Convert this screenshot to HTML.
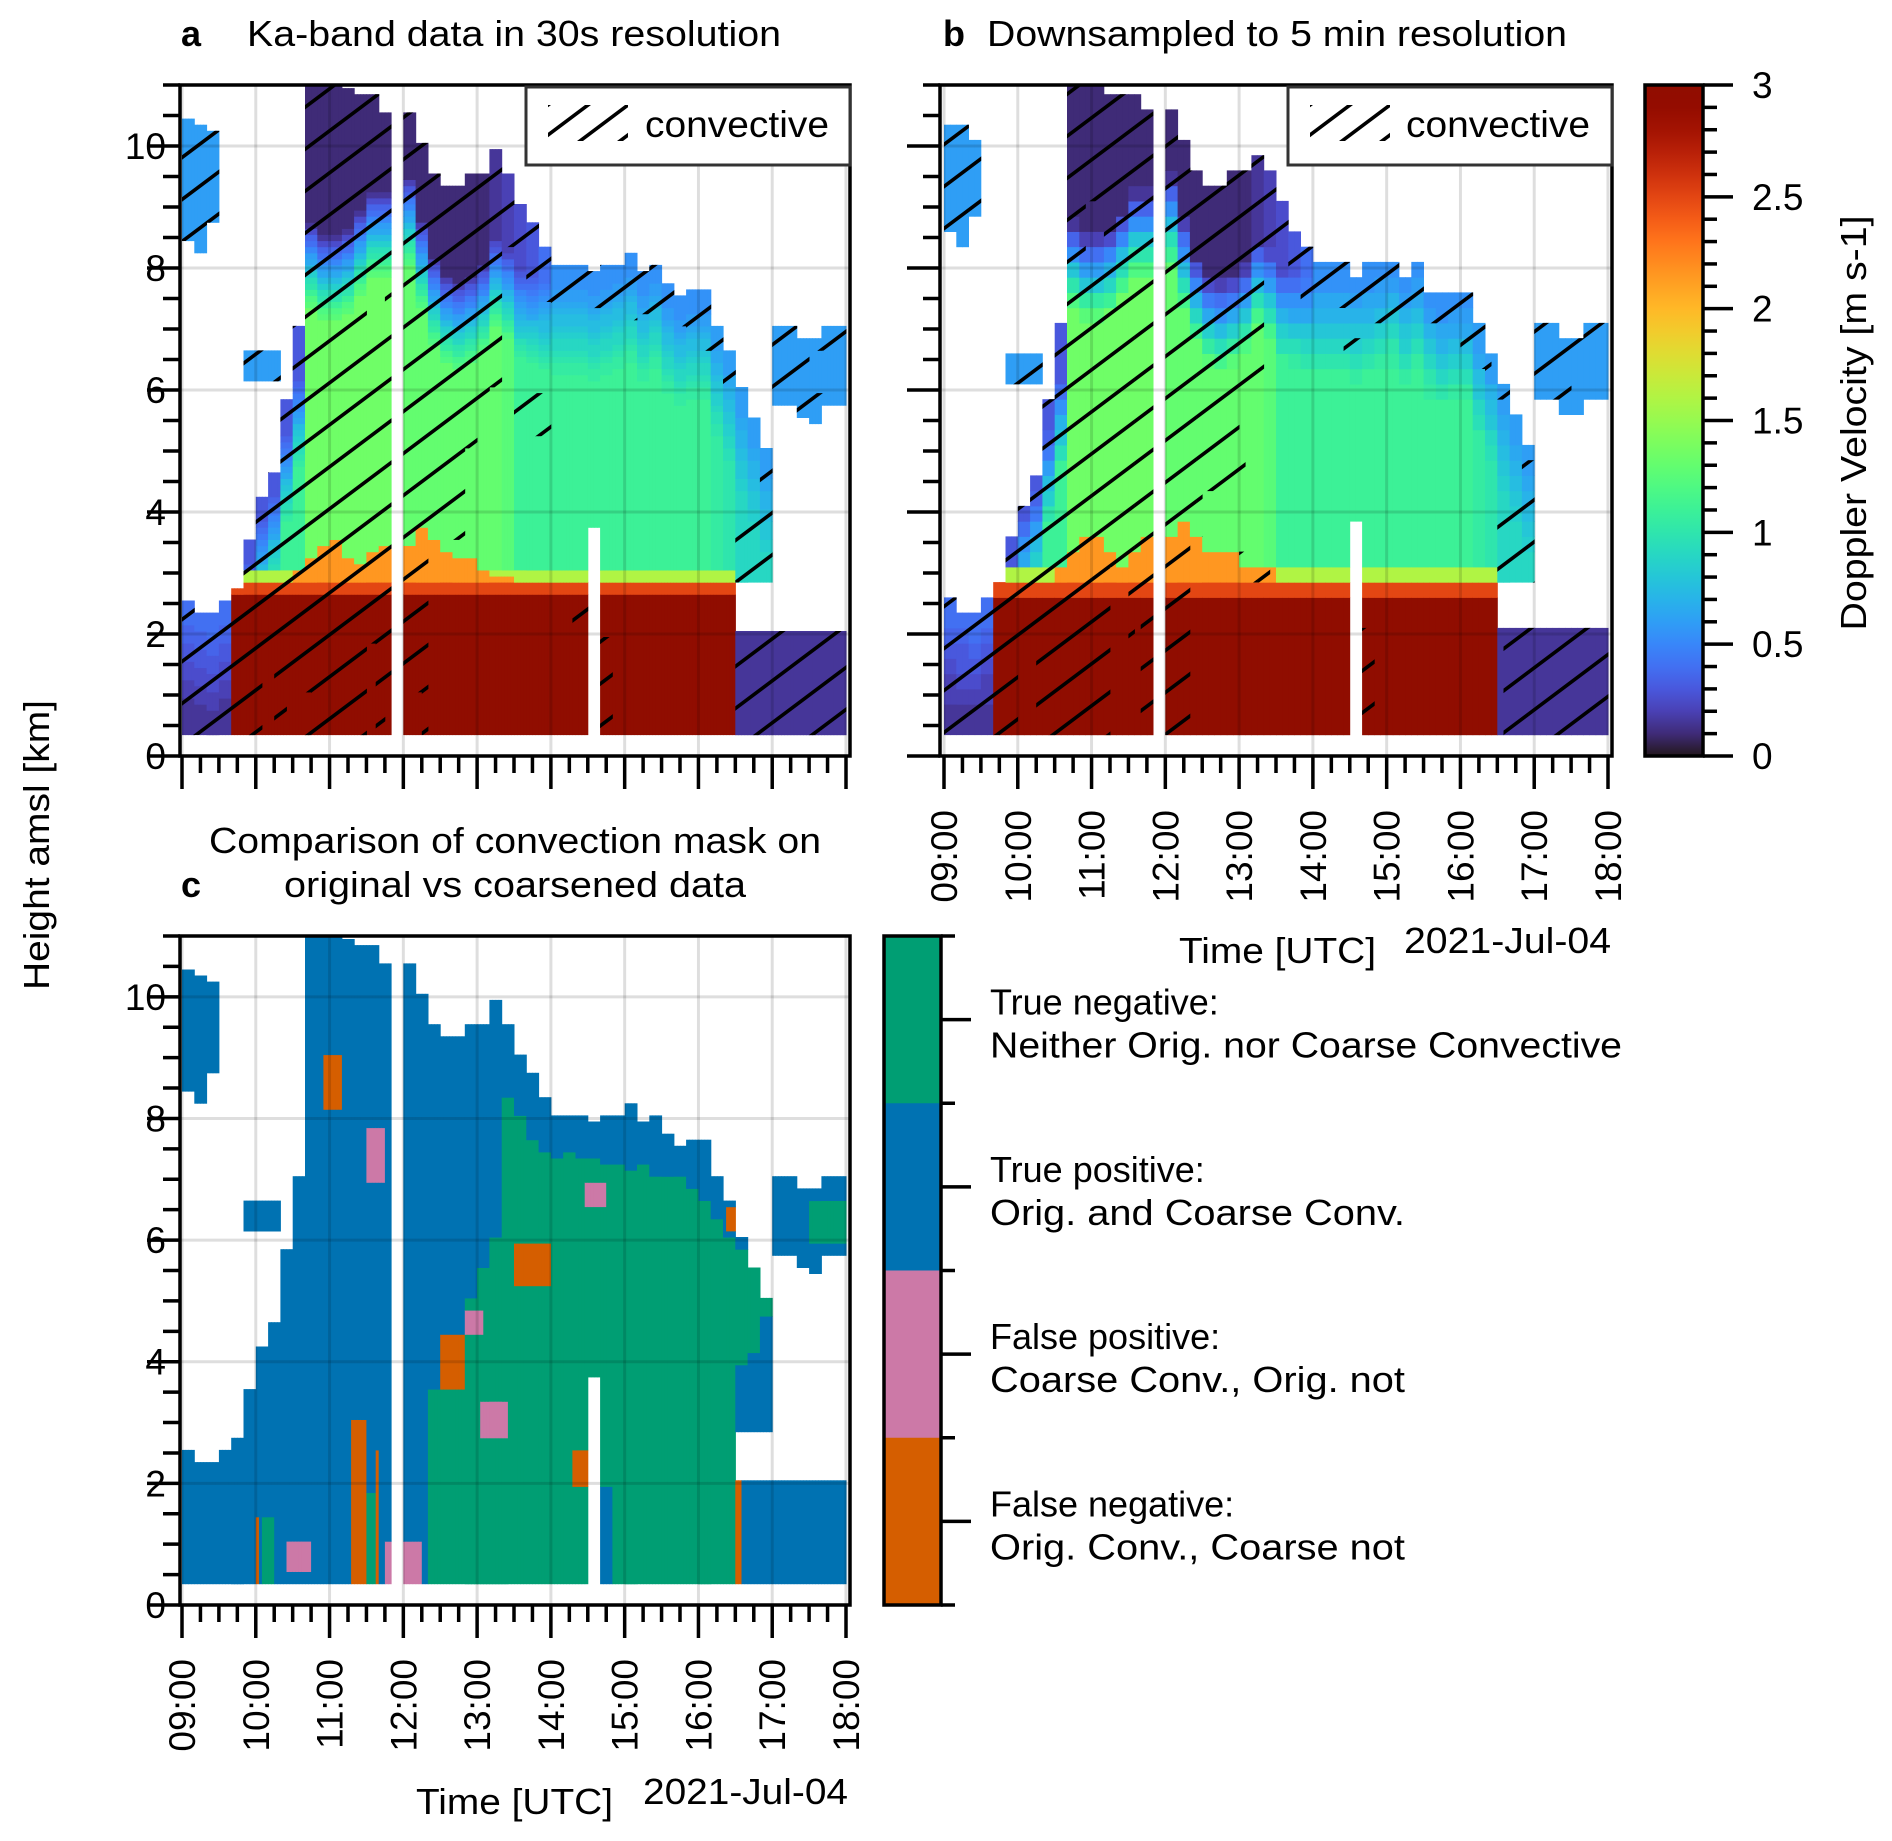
<!DOCTYPE html>
<html><head><meta charset="utf-8">
<style>
html,body{margin:0;padding:0;background:#fff;}
svg{display:block;font-family:"Liberation Sans",Arial,sans-serif;}
</style></head>
<body>
<svg id="fig" width="1892" height="1841" viewBox="0 0 1892 1841" xmlns="http://www.w3.org/2000/svg">
<defs>
<pattern id="hatchA" patternUnits="userSpaceOnUse" width="56" height="42"><path d="M-14,52.5 L70,-10.5 M-70,52.5 L14,-10.5 M42,52.5 L126,-10.5" stroke="#000" stroke-width="3.6" fill="none"/></pattern>
<pattern id="hatchB" patternUnits="userSpaceOnUse" width="56" height="42" x="10" y="5"><path d="M-14,52.5 L70,-10.5 M-70,52.5 L14,-10.5 M42,52.5 L126,-10.5" stroke="#000" stroke-width="3.6" fill="none"/></pattern>
<pattern id="hatchL" patternUnits="userSpaceOnUse" width="40" height="30" x="548" y="105"><path d="M-10,37.5 L50,-7.5 M-50,37.5 L10,-7.5 M30,37.5 L90,-7.5" stroke="#000" stroke-width="3.6" fill="none"/></pattern>
<pattern id="hatchL2" patternUnits="userSpaceOnUse" width="40" height="30" x="1310" y="105"><path d="M-10,37.5 L50,-7.5 M-50,37.5 L10,-7.5 M30,37.5 L90,-7.5" stroke="#000" stroke-width="3.6" fill="none"/></pattern>
<linearGradient id="turboGrad" x1="0" y1="1" x2="0" y2="0"></linearGradient>
<clipPath id="convA"></clipPath>
<clipPath id="convB"></clipPath>
</defs>
<g id="layer"></g>
</svg>
<script>
// ---------- data (10-minute bins from 09:00 to 18:00, 54 bins) ----------
const hourLabels = ['09:00','10:00','11:00','12:00','13:00','14:00','15:00','16:00','17:00','18:00'];
const heightTicks = [0,2,4,6,8,10];
const velocityTicks = [0,0.5,1,1.5,2,2.5,3];
const velocityTickLabels = ['0','0.5','1','1.5','2','2.5','3'];
const cloudTop = [2.5,2.4,2.3,2.5,2.8,3.5,4.2,4.6,5.8,7.0,
  11,11,11,10.9,10.8,10.8,10.5,0,10.5,10.0,
  9.6,9.3,9.3,9.5,9.6,9.9,9.5,9.0,8.7,8.3,
  8.0,8.0,8.0,7.9,8.0,8.1,8.2,7.9,8.1,7.7,
  7.5,7.6,7.6,7.0,6.6,6.0,5.5,5.0,0,0,
  0,0,0,0];
const cloudBase = [0.35,0.35,0.35,0.35,0.35,0.35,0.35,0.35,0.35,0.35,
  0.35,0.35,0.35,0.35,0.35,0.35,0.35,0.35,0.35,0.35,
  0.35,0.35,0.35,0.35,0.35,0.35,0.35,0.35,0.35,0.35,
  0.35,0.35,0.35,3.8,0.35,0.35,0.35,0.35,0.35,0.35,
  0.35,0.35,0.35,0.35,0.35,2.9,2.9,2.9,0.35,0.35,
  0.35,0.35,0.35,0.35];
const rainTop = [0,0,0,0,2.7,2.7,2.7,2.7,2.7,2.7,
  2.7,2.7,2.7,2.7,2.7,2.7,2.7,0,2.7,2.7,
  2.7,2.7,2.7,2.7,2.7,2.7,2.7,2.7,2.7,2.7,
  2.7,2.7,2.7,2.7,2.7,2.7,2.7,2.7,2.7,2.7,
  2.7,2.7,2.7,2.7,2.7,0,0,0,0,0,
  0,0,0,0];
const streakTop = [0,0,0,0,0,0,0,0,0,3.1,
  3.3,3.5,3.6,3.3,3.2,3.4,3.5,0,3.5,3.8,
  3.6,3.4,3.3,3.3,3.1,3.0,3.0,0,0,0,
  0,0,0,0,0,0,0,0,0,0,
  0,0,0,0,0,0,0,0,0,0,
  0,0,0,0];
const velMid = [0.15,0.15,0.15,0.15,0.5,1.1,1.1,1.1,1.1,1.1,
  1.35,1.35,1.35,1.35,1.35,1.35,1.35,0,1.3,1.3,
  1.3,1.3,1.3,1.3,1.3,1.3,1.25,1.1,1.1,1.1,
  1.1,1.1,1.1,1.1,1.1,1.1,1.1,1.1,1.1,1.1,
  1.1,1.1,1.1,1.05,1.0,0.9,0.9,0.9,0,0,
  0,0,0,0];
const velTop = [0.4,0.4,0.4,0.4,0.3,0.3,0.3,0.3,0.3,0.3,
  0.08,0.08,0.08,0.08,0.08,0.08,0.08,0,0.12,0.12,
  0.12,0.12,0.12,0.12,0.12,0.15,0.2,0.25,0.3,0.4,
  0.55,0.55,0.55,0.55,0.55,0.55,0.55,0.55,0.55,0.55,
  0.55,0.55,0.55,0.6,0.6,0.6,0.6,0.6,0,0,
  0,0,0,0];
const darkDepth = [0.2,0.2,0.2,0.2,0.3,0.3,0.3,0.3,0.5,0.8,
  2.2,2.4,2.4,2.2,1.8,1.5,1.2,0,1.0,1.2,
  1.4,1.4,1.5,1.6,1.5,1.4,1.2,1.0,0.8,0.5,
  0.3,0.3,0.3,0.3,0.3,0.3,0.3,0.3,0.3,0.3,
  0.3,0.3,0.3,0.3,0.3,0.3,0.3,0.3,0,0,
  0,0,0,0];
const clutterTop = [0,0,0,0,0,0,0,0,0,0,
  0,0,0,0,0,0,0,0,0,0,
  0,0,0,0,0,0,0,0,0,0,
  0,0,0,0,0,0,0,0,0,0,
  0,0,0,0,0,2.0,2.0,2.0,2.0,2.0,
  2.0,2.0,2.0,2.0];
const upperBase = [8.5,8.3,8.8,0,0,6.2,6.2,6.2,0,0,
  0,0,0,0,0,0,0,0,0,0,
  0,0,0,0,0,0,0,0,0,0,
  0,0,0,0,0,0,0,0,0,0,
  0,0,0,0,0,0,0,0,5.8,5.8,
  5.6,5.5,5.8,5.8];
const upperTop = [10.4,10.3,10.2,0,0,6.6,6.6,6.6,0,0,
  0,0,0,0,0,0,0,0,0,0,
  0,0,0,0,0,0,0,0,0,0,
  0,0,0,0,0,0,0,0,0,0,
  0,0,0,0,0,0,0,0,7.0,7.0,
  6.8,6.8,7.0,7.0];
// panel c: non-convective (true negative) range per bin
const tnBottom = [0,0,0,0,0,0,0,0,0,0,
  0,0,0,0,0,0,0,0,0,0,
  0.35,0.35,0.35,0.35,0.35,0.35,0.35,0.35,0.35,0.35,
  0.35,0.35,0.35,3.8,2.0,0.35,0.35,0.35,0.35,0.35,
  0.35,0.35,0.35,0.35,0.35,4.0,4.2,4.8,0,0,
  0,5.9,5.9,5.9];
const tnTop = [0,0,0,0,0,0,0,0,0,0,
  0,0,0,0,0,0,0,0,0,0,
  3.5,3.6,3.8,5.0,5.5,6.0,8.3,8.0,7.6,7.4,
  7.3,7.4,7.3,7.3,7.2,7.2,7.1,7.2,7.0,7.0,
  7.0,6.8,6.6,6.3,6.0,5.8,5.5,5.0,0,0,
  0,6.6,6.6,6.6];
// panel c: misclassified patches (start hour, end hour, low km, high km, class)
const patchStart = [10.92,11.28,11.5,11.62,11.75,11.52,12.52,12.82,13.03,13.5,14.45,16.38,14.28,10.0,10.08,10.4,16.5];
const patchEnd   = [11.17,11.5,11.62,11.67,12.25,11.75,12.83,13.08,13.43,14.0,14.73,16.8,14.48,10.05,10.25,10.75,16.57];
const patchLow   = [8.2,0.35,0.35,0.35,0.35,6.9,3.6,4.4,2.8,5.3,6.6,6.2,2.0,0.35,0.35,0.5,0.35];
const patchHigh  = [9.0,3.0,1.8,2.5,1.0,7.8,4.4,4.8,3.4,5.9,6.9,6.5,2.5,1.5,1.5,1.0,2.0];
const patchClass = ['FN','FN','TN','FN','FP','FP','FN','FP','FP','FN','FP','FN','FN','FN','TN','FP','FN'];
const classNames = ['TN','TP','FP','FN'];
const classColors = {TN:'#009e73',TP:'#0072b2',FP:'#cc79a7',FN:'#d55e00'};
const classLabel1 = ['True negative:','True positive:','False positive:','False negative:'];
const classLabel2 = ['Neither Orig. nor Coarse Convective','Orig. and Coarse Conv.','Coarse Conv., Orig. not','Orig. Conv., Coarse not'];

// ---------- helpers ----------
const NS='http://www.w3.org/2000/svg';
const layer=document.getElementById('layer');
function mk(tag,attrs,parent){const e=document.createElementNS(NS,tag);for(const k in attrs)e.setAttribute(k,attrs[k]);(parent||layer).appendChild(e);return e;}
function turbo(v){let x=Math.max(0,Math.min(1,v/3));
 let r=0.13572138+x*(4.61539260+x*(-42.66032258+x*(132.13108234+x*(-152.94239396+x*59.28637943))));
 let g=0.09140261+x*(2.19418839+x*(4.84296658+x*(-14.18503333+x*(4.27729857+x*2.82956604))));
 let b=0.10667330+x*(12.64194608+x*(-60.58204836+x*(110.36276771+x*(-89.90310912+x*27.34824973))));
 const c=t=>Math.round(255*Math.max(0,Math.min(1,t)));return 'rgb('+c(r)+','+c(g)+','+c(b)+')';}

const panels={
 a:{x0:180,x1:850,tx0:182,tx1:846,yTop:85,yBot:756},
 b:{x0:940,x1:1612,tx0:944,tx1:1608,yTop:85,yBot:756},
 c:{x0:180,x1:850,tx0:182,tx1:846,yTop:936,yBot:1605}
};
function xScale(p,t){return p.tx0+(t-9)*(p.tx1-p.tx0)/9;}
function yScale(p,h){return p.yBot-h*(p.yBot-p.yTop)/11;}

function velAt(i,h){
 if(upperTop[i]>0 && h>=upperBase[i] && h<=upperTop[i]) return 0.6;
 if(clutterTop[i]>0 && h<=clutterTop[i] && h>=0.35) return 0.15;
 if(cloudTop[i]<=0 || h<cloudBase[i] || h>cloudTop[i]) return null;
 if(h<rainTop[i]) return 3.0;
 if(rainTop[i]>0 && h<rainTop[i]+0.15) return 2.5;
 if(streakTop[i]>0 && h<streakTop[i]) return 2.15;
 if(rainTop[i]>0 && h<rainTop[i]+0.4) return 1.6;
 const d=cloudTop[i]-h;
 if(d<darkDepth[i]) return velTop[i];
 const dd=d-darkDepth[i], depth=1.5;
 if(dd<depth) return velTop[i]+(velMid[i]-velTop[i])*dd/depth;
 return velMid[i];
}
function classAt(i,t,h){
 if(velAt(i,h)===null) return null;
 for(let k=0;k<patchStart.length;k++){
  if(t>=patchStart[k]&&t<patchEnd[k]&&h>=patchLow[k]&&h<=patchHigh[k]) return patchClass[k];
 }
 if(tnTop[i]>0 && h>=tnBottom[i] && h<=tnTop[i]) return 'TN';
 return 'TP';
}

// ---------- panel drawing ----------
function drawField(key,mode,dt,dh){
 const p=panels[key];
 const g=mk('g',{});
 
 
 const clip = mode==='a'?document.getElementById('convA'):(mode==='b'?document.getElementById('convB'):null);
 const ncol=Math.round(9/dt), nrow=Math.ceil((11-0.35)/dh);
 for(let j=0;j<ncol;j++){
  const t=9+(j+0.5)*dt, i=Math.min(53,Math.floor((t-9)*6));
  const xa=xScale(p,9+j*dt), xb=xScale(p,9+(j+1)*dt);
  let run=null, crun=null;
  const flush=(r,isClip)=>{ if(!r||r.c===null) return;
    const y1=yScale(p,r.h1), y0=yScale(p,r.h0);
    if(isClip){ if(r.c){ const cr=mk('rect',{x:xa.toFixed(1),y:y1.toFixed(1),width:(xb-xa+0.4).toFixed(1),height:(y0-y1+0.4).toFixed(1)},clip);
      
       } return; }
    const re=mk('rect',{x:xa.toFixed(1),y:y1.toFixed(1),width:(xb-xa+0.5).toFixed(1),height:(y0-y1+0.5).toFixed(1),fill:r.c},g);
    
     };
  for(let r=0;r<nrow;r++){
   const h0=0.35+r*dh, h1=Math.min(11,h0+dh), hc=(h0+h1)/2;
   let col=null, cv=null;
   if(mode==='c'){ const cl=classAt(i,t,hc); col=cl?classColors[cl]:null; }
   else { const v=velAt(i,hc); col=v===null?null:turbo(Math.round(v*20)/20);
     const cl=classAt(i,t,hc); cv = cl===null?null:(mode==='a'?(cl==='TP'||cl==='FN'):(cl==='TP'||cl==='FP')); }
   if(run&&run.c===col){run.h1=h1;} else {flush(run,false);run={c:col,h0:h0,h1:h1};}
   if(clip){ if(crun&&crun.c===cv){crun.h1=h1;} else {flush(crun,true);crun={c:cv,h0:h0,h1:h1};} }
  }
  flush(run,false); if(clip) flush(crun,true);
 }
 if(clip){
  const hr=mk('rect',{x:p.x0,y:p.yTop,width:p.x1-p.x0,height:p.yBot-p.yTop,fill:'url(#'+(mode==='a'?'hatchA':'hatchB')+')','clip-path':'url(#'+(mode==='a'?'convA':'convB')+')'});
  
  
 }
}

function drawAxes(key,yLabels,xLabels){
 const p=panels[key];
 for(let k=0;k<hourLabels.length;k++){const x=xScale(p,9+k);
  const gl=mk('line',{x1:x,x2:x,y1:p.yTop,y2:p.yBot,stroke:'rgba(0,0,0,0.13)','stroke-width':3});
  
  }
 for(const h of heightTicks){const y=yScale(p,h);
  const gl=mk('line',{x1:p.x0,x2:p.x1,y1:y,y2:y,stroke:'rgba(0,0,0,0.13)','stroke-width':3});
  
  }
 const fr=mk('rect',{x:p.x0,y:p.yTop,width:p.x1-p.x0,height:p.yBot-p.yTop,fill:'none',stroke:'#000','stroke-width':3.5});
 
 
 for(let h=0;h<=11.001;h+=0.5){const y=yScale(p,h);const major=Math.abs(h/2-Math.round(h/2))<1e-6;
  const tk=mk('line',{x1:p.x0,x2:p.x0-(major?33:17),y1:y,y2:y,stroke:'#000','stroke-width':3.5});
  
  }
 if(yLabels) for(const h of heightTicks){
  const tx=mk('text',{x:166,y:yScale(p,h)+13,'font-size':37,'text-anchor':'end'});tx.textContent=String(h);
  
  }
 for(let q=0;q<=36;q++){const x=xScale(p,9+q/4);const major=q%4===0;
  const tk=mk('line',{x1:x,x2:x,y1:p.yBot,y2:p.yBot+(major?33:17),stroke:'#000','stroke-width':3.5});
  
  }
 if(xLabels) for(let k=0;k<hourLabels.length;k++){
  const x=xScale(p,9+k)+13, y=p.yBot+54;
  const tx=mk('text',{x:x,y:y,'font-size':37,'text-anchor':'end',transform:'rotate(-90 '+x+' '+y+')'});tx.textContent=hourLabels[k];
  
  }
}

function text(str,x,y,size,name,extra){const a={x:x,y:y,'font-size':size};for(const k in (extra||{}))a[k]=extra[k];
 const t=mk('text',a);t.textContent=str;
 
 return t;}

drawField('a','a',1/24,0.1);
drawAxes('a',true,false);
drawField('b','b',1/12,0.25);
drawAxes('b',false,true);
drawField('c','c',1/24,0.1);
drawAxes('c',true,true);

text('a',181,46,36,'panel-a-letter',{'font-weight':'bold'});
text('Ka-band data in 30s resolution',247,46,36,'panel-a-title',{textLength:534,lengthAdjust:'spacingAndGlyphs'});
text('b',943,46,36,'panel-b-letter',{'font-weight':'bold'});
text('Downsampled to 5 min resolution',987,46,36,'panel-b-title',{textLength:580,lengthAdjust:'spacingAndGlyphs'});
text('Comparison of convection mask on',515,853,36,'panel-c-title-line1',{'text-anchor':'middle',textLength:612,lengthAdjust:'spacingAndGlyphs'});
text('original vs coarsened data',515,897,36,'panel-c-title-line2',{'text-anchor':'middle',textLength:462,lengthAdjust:'spacingAndGlyphs'});
text('c',181,897,36,'panel-c-letter',{'font-weight':'bold'});

function convLegend(x0,x1,pat,tx,key){
 const r=mk('rect',{x:x0,y:87,width:x1-x0,height:78,fill:'#fff',stroke:'#333','stroke-width':3});
 
 
 const s=mk('rect',{x:x0+22,y:105,width:80,height:36,fill:'url(#'+pat+')'});
 
 
 text('convective',tx,137,37,'legend-entry-convective',{textLength:184,lengthAdjust:'spacingAndGlyphs'});
}
convLegend(526,850,'hatchL',645,'a');
convLegend(1288,1612,'hatchL2',1406,'b');

const grad=document.getElementById('turboGrad');
for(let k=0;k<=30;k++){mk('stop',{offset:(k/30).toFixed(3),'stop-color':turbo(3*k/30)},grad);}
const cb=mk('rect',{x:1645,y:85,width:58,height:671,fill:'url(#turboGrad)',stroke:'#000','stroke-width':3.5});


function cbY(v){return 756-v*(756-85)/3;}
for(let k=0;k<=30;k++){const v=k/10;const major=k%5===0;
 const tk=mk('line',{x1:1703,x2:1703+(major?30:14),y1:cbY(v),y2:cbY(v),stroke:'#000','stroke-width':3.5});
 
 }
for(let k=0;k<velocityTicks.length;k++){text(velocityTickLabels[k],1752,cbY(velocityTicks[k])+13,37,'colorbar-tick-label');}
text('Doppler Velocity [m s-1]',1866,423,36,'colorbar-title',{'text-anchor':'middle',transform:'rotate(-90 1866 423)',textLength:415,lengthAdjust:'spacingAndGlyphs'});
text('Height amsl [km]',49,845,36,'y-axis-title',{'text-anchor':'middle',transform:'rotate(-90 49 845)',textLength:290,lengthAdjust:'spacingAndGlyphs'});

text('Time [UTC]',1179,963,36,'x-axis-title-b',{textLength:197,lengthAdjust:'spacingAndGlyphs'});
text('2021-Jul-04',1404,953,36,'date-label-b',{textLength:207,lengthAdjust:'spacingAndGlyphs'});
text('Time [UTC]',416,1814,36,'x-axis-title-c',{textLength:197,lengthAdjust:'spacingAndGlyphs'});
text('2021-Jul-04',643,1804,36,'date-label-c',{textLength:205,lengthAdjust:'spacingAndGlyphs'});

const cy0=936, cy1=1605, ch=(cy1-cy0)/4;
for(let k=0;k<4;k++){
 const r=mk('rect',{x:884,y:cy0+k*ch,width:57,height:ch+0.5,fill:classColors[classNames[k]]});
 
 
 const yc=cy0+(k+0.5)*ch;
 const tk=mk('line',{x1:941,x2:971,y1:yc,y2:yc,stroke:'#000','stroke-width':3.5});
 
 
 text(classLabel1[k],990,yc-5,36,'class-label-line1');
 text(classLabel2[k],990,yc+38,36,'class-label-line2',{textLength:[632,415,415,415][k],lengthAdjust:'spacingAndGlyphs'});
}
for(let k=0;k<=4;k++){const y=cy0+k*ch;
 const tk=mk('line',{x1:941,x2:955,y1:y,y2:y,stroke:'#000','stroke-width':3.5});
 
 }
const cbf=mk('rect',{x:884,y:cy0,width:57,height:cy1-cy0,fill:'none',stroke:'#000','stroke-width':3.5});


</script>
</body></html>
